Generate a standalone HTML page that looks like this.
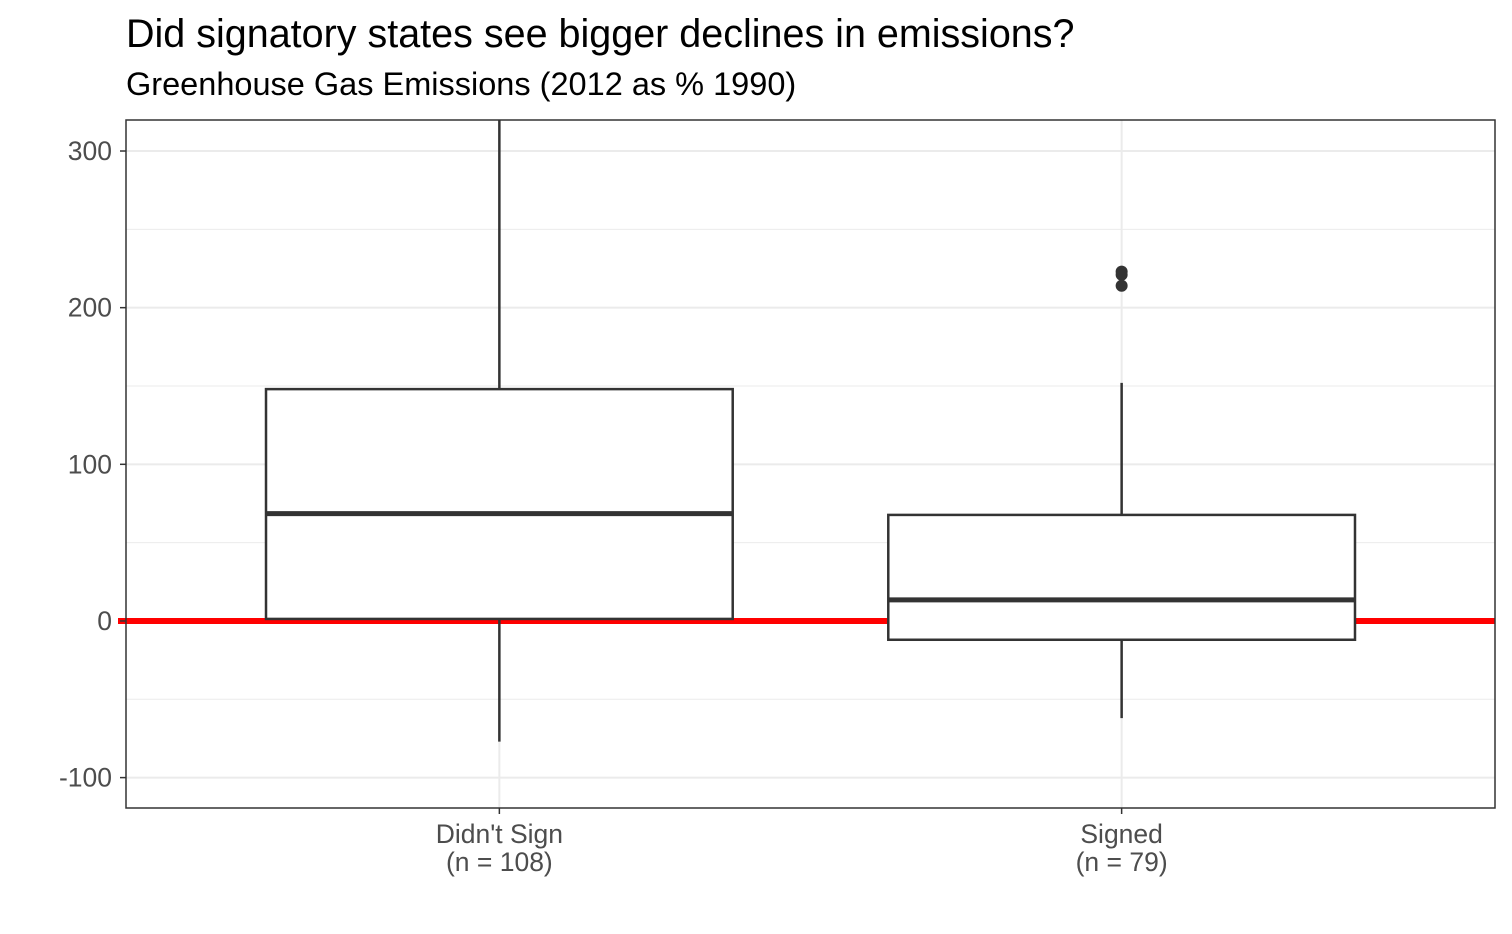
<!DOCTYPE html>
<html><head><meta charset="utf-8"><style>
body{margin:0;background:#fff;}
svg{display:block;font-family:"Liberation Sans",Arial,sans-serif;}
</style></head><body>
<svg id="chart" width="1512" height="934">
<text x="126" y="47" font-size="39.5" fill="#000">Did signatory states see bigger declines in emissions?</text>
<text x="126" y="95" font-size="32.5" fill="#000">Greenhouse Gas Emissions (2012 as % 1990)</text>
<g id="grid"></g><g id="marks"></g><g id="axes"></g>
</svg>
<script>
const categories=["Didn't Sign\n(n = 108)","Signed\n(n = 79)"];
const q1=[1.3,-12];
const medians=[68.5,13.5];
const q3=[148,67.7];
const whiskerLow=[-77,-62];
const whiskerHigh=[330,152];
const outliers=[[],[223,221,214]];
const yTicks=[-100,0,100,200,300];
const yMinor=[-50,50,150,250];
const refLine=0;

const L=126,R=1495,T=120,B=808,yMin=-119.4,yMax=319.8;
const y=v=>B-(v-yMin)/(yMax-yMin)*(B-T);
const unit=(R-L)/(categories.length-1+1.2);
const x=i=>L+unit*(0.6+i);
const halfW=unit*0.375;
const NS="http://www.w3.org/2000/svg";
function mk(p,t,a){const e=document.createElementNS(NS,t);for(const k in a)e.setAttribute(k,a[k]);p.appendChild(e);return e;}
const svg=document.getElementById('chart');
const grid=document.getElementById('grid'),marks=document.getElementById('marks'),axes=document.getElementById('axes');
const clip=mk(svg,'clipPath',{id:'pc'});mk(clip,'rect',{x:L,y:T,width:R-L,height:B-T});
marks.setAttribute('clip-path','url(#pc)');
yMinor.forEach(v=>{const l=mk(grid,'line',{x1:L,x2:R,y1:y(v),y2:y(v),stroke:'#ebebeb','stroke-width':1});

});
yTicks.forEach(v=>{const l=mk(grid,'line',{x1:L,x2:R,y1:y(v),y2:y(v),stroke:'#ebebeb','stroke-width':2});


const tk=mk(axes,'line',{x1:L-6,x2:L,y1:y(v),y2:y(v),stroke:'#333','stroke-width':1.5});


const t=mk(axes,'text',{x:L-14,y:y(v)+9,'text-anchor':'end','font-size':26.5,fill:'#4d4d4d'});t.textContent=v;

});
categories.forEach((c,i)=>{const l=mk(grid,'line',{x1:x(i),x2:x(i),y1:T,y2:B,stroke:'#ebebeb','stroke-width':2});


const tk=mk(axes,'line',{x1:x(i),x2:x(i),y1:B,y2:B+6,stroke:'#333','stroke-width':1.5});


c.split('\n').forEach((s,j)=>{const t=mk(axes,'text',{x:x(i),y:B+35+j*28,'text-anchor':'middle','font-size':26.5,fill:'#4d4d4d'});t.textContent=s;

});});
const rl=mk(svg,'line',{x1:118,x2:R,y1:y(refLine),y2:y(refLine),stroke:'#ff0000','stroke-width':6});


svg.insertBefore(rl,marks);
categories.forEach((c,i)=>{const g=mk(marks,'g',{});


const st={stroke:'#333','stroke-width':2.5};
mk(g,'line',Object.assign({x1:x(i),x2:x(i),y1:y(whiskerHigh[i]),y2:y(q3[i])},st));
mk(g,'line',Object.assign({x1:x(i),x2:x(i),y1:y(q1[i]),y2:y(whiskerLow[i])},st));
mk(g,'rect',Object.assign({x:x(i)-halfW,y:y(q3[i]),width:2*halfW,height:y(q1[i])-y(q3[i]),fill:'#fff'},st));
mk(g,'line',{x1:x(i)-halfW,x2:x(i)+halfW,y1:y(medians[i]),y2:y(medians[i]),stroke:'#333','stroke-width':5});
outliers[i].forEach(v=>{const p=mk(g,'circle',{cx:x(i),cy:y(v),r:6,fill:'#333'});

});});
const fr=mk(axes,'rect',{x:L,y:T,width:R-L,height:B-T,fill:'none',stroke:'#333','stroke-width':1.5});


</script>
</body></html>
